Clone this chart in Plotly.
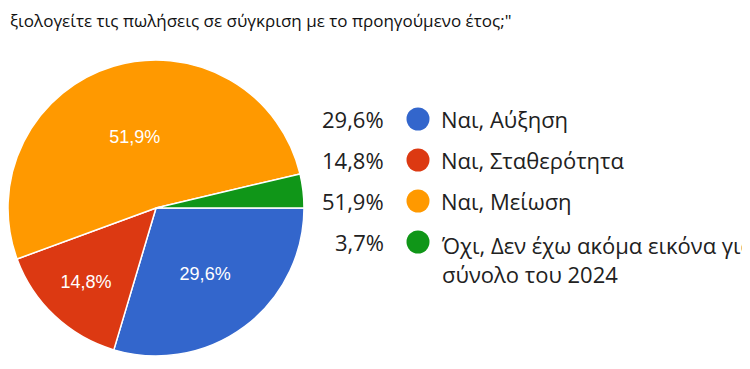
import plotly.graph_objects as go

# ---- data ----
categories = ["Ναι, Αύξηση", "Ναι, Σταθερότητα", "Ναι, Μείωση",
              "Όχι, Δεν έχω ακόμα εικόνα για το<br>σύνολο του 2024"]
percentages = [29.6, 14.8, 51.9, 3.7]
colors = ["#3366CC", "#DC3912", "#FF9900", "#109618"]
title_text = "ξιολογείτε τις πωλήσεις σε σύγκριση με το προηγούμενο έτος;\""

W, H = 750, 369
OFF = 8  # page body margin: figure pixel = window pixel - OFF

def fmt(v):
    return f"{v:.1f}".replace(".", ",") + "%"

# slices too thin for a label get no inside text (as in the reference)
slice_text = ["%{percent:.1%}" if p >= 5 else "" for p in percentages]

fig = go.Figure()

R = 148
cy = 208 - OFF
fig.add_trace(go.Pie(
    values=percentages,
    labels=categories,
    marker=dict(colors=colors, line=dict(color="white", width=1.5)),
    sort=False,
    direction="clockwise",
    rotation=90,
    texttemplate=slice_text,
    textposition="inside",
    insidetextorientation="horizontal",
    textfont=dict(family="Liberation Sans, Arial", size=18, color="white"),
    domain=dict(x=[0, 2 * R / W], y=[(H - cy - R) / H, (H - cy + R) / H]),
    showlegend=False,
    hoverinfo="label+percent",
))

# legend markers (circles) on a hidden cartesian axis, one row per category
rows = list(range(len(categories)))
fig.add_trace(go.Scatter(
    x=[(418 - OFF) / W] * len(categories),
    y=rows,
    mode="markers",
    marker=dict(color=colors, size=23, symbol="circle"),
    showlegend=False,
    hoverinfo="skip",
))

legend_font = dict(family="Open Sans", size=22, color="#212121")
for i, (cat, p) in enumerate(zip(categories, percentages)):
    fig.add_annotation(x=(386 - OFF) / W, y=i, xref="x", yref="y", text=fmt(p),
                       showarrow=False, xanchor="right", yanchor="middle",
                       font=legend_font)
    multi = "<br>" in cat
    fig.add_annotation(x=(439 - OFF) / W, y=i, xref="x", yref="y", text=cat,
                       showarrow=False, xanchor="left", yanchor="middle",
                       yshift=-17 if multi else 0,
                       align="left", font=legend_font)

fig.add_annotation(x=0, y=1 - (21 - OFF) / H, xref="paper", yref="paper",
                   text=title_text, showarrow=False, xanchor="left",
                   yanchor="middle",
                   font=dict(family="Open Sans", size=17, color="#111111"))

px_per_row = 41
top_val = -(119 - OFF) / px_per_row
bottom_val = top_val + H / px_per_row
fig.update_layout(
    width=W, height=H,
    margin=dict(l=0, r=0, t=0, b=0),
    paper_bgcolor="white", plot_bgcolor="rgba(0,0,0,0)",
    separators=",.",
    xaxis=dict(range=[0, 1], visible=False, fixedrange=True),
    yaxis=dict(range=[bottom_val, top_val], visible=False, fixedrange=True),
)

fig.write_html("out.html")
